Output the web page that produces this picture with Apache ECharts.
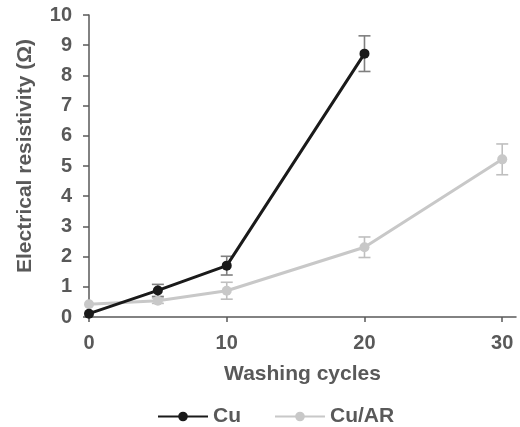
<!DOCTYPE html>
<html><head><meta charset="utf-8">
<script src="https://cdn.jsdelivr.net/npm/echarts@6/dist/echarts.min.js"></script>
<style>html,body{margin:0;padding:0;background:#fff}#c{width:520px;height:427px}</style>
</head><body><div id="c"></div>
<script>
const cycles = [0, 5, 10, 20];
const cyclesAR = [0, 5, 10, 20, 30];
const cuValues = [0.11, 0.88, 1.70, 8.72];
const cuErr = [0, 0.2, 0.31, 0.59];
const arValues = [0.42, 0.54, 0.87, 2.31, 5.22];
const arErr = [0, 0.09, 0.28, 0.34, 0.51];
const xTicks = [0, 10, 20, 30];
const yTicks = [0, 1, 2, 3, 4, 5, 6, 7, 8, 9, 10];

const txt = '#595959';
const font = '"Liberation Sans", Arial, sans-serif';

function errData(xs, vs, es) {
  return xs.map((x, i) => [x, vs[i] - es[i], vs[i] + es[i]]).filter((d, i) => es[i] > 0);
}
function errSeries(data, color) {
  return {
    type: 'custom', data: data, z: 1, silent: true,
    renderItem: function (params, api) {
      const x = api.value(0);
      const lo = api.coord([x, api.value(1)]);
      const hi = api.coord([x, api.value(2)]);
      const w = 6;
      const st = { stroke: color, lineWidth: 1.6 };
      return { type: 'group', children: [
        { type: 'line', shape: { x1: hi[0], y1: hi[1], x2: lo[0], y2: lo[1] }, style: st },
        { type: 'line', shape: { x1: hi[0] - w, y1: hi[1], x2: hi[0] + w, y2: hi[1] }, style: st },
        { type: 'line', shape: { x1: lo[0] - w, y1: lo[1], x2: lo[0] + w, y2: lo[1] }, style: st }
      ]};
    }
  };
}

const chart = echarts.init(document.getElementById('c'));
chart.setOption({
  animation: false,
  textStyle: { fontFamily: font },
  grid: { left: 89, right: 4, top: 15, bottom: 110, containLabel: false },
  xAxis: {
    type: 'value', min: 0, max: 31,
    name: 'Washing cycles', nameLocation: 'middle', nameGap: 47,
    nameTextStyle: { color: txt, fontSize: 21, fontWeight: 'bold', fontFamily: font },
    axisLine: { lineStyle: { color: '#595959', width: 1.5 } },
    axisTick: { show: true, length: 5, customValues: xTicks, lineStyle: { color: '#595959', width: 1.5 } },
    axisLabel: { customValues: xTicks, color: txt, fontSize: 20, fontWeight: 'bold', margin: 16, fontFamily: font },
    splitLine: { show: false }
  },
  yAxis: {
    type: 'value', min: 0, max: 10, interval: 1,
    name: 'Electrical resistivity (Ω)', nameLocation: 'middle', nameGap: 53,
    nameTextStyle: { color: txt, fontSize: 21, fontWeight: 'bold', fontFamily: font, padding: [0, 0, 0, 20] },
    axisLine: { show: true, lineStyle: { color: '#595959', width: 1.5 } },
    axisTick: { show: true, length: 6, customValues: yTicks, lineStyle: { color: '#595959', width: 1.5 } },
    axisLabel: { customValues: yTicks, color: txt, fontSize: 20, fontWeight: 'bold', margin: 17, fontFamily: font },
    splitLine: { show: false }
  },
  legend: {
    left: 152, top: 401, itemWidth: 50, itemHeight: 12, itemGap: 33,
    textStyle: { color: txt, fontSize: 21, fontWeight: 'bold', fontFamily: font },
    data: ['Cu', 'Cu/AR']
  },
  series: [
    errSeries(errData(cyclesAR, arValues, arErr), '#bfbfbf'),
    errSeries(errData(cycles, cuValues, cuErr), '#7f7f7f'),
    {
      name: 'Cu/AR', type: 'line', z: 2,
      data: cyclesAR.map((x, i) => [x, arValues[i]]),
      symbol: 'circle', symbolSize: 10,
      lineStyle: { color: '#c8c8c8', width: 3 },
      itemStyle: { color: '#c8c8c8' }
    },
    {
      name: 'Cu', type: 'line', z: 3,
      data: cycles.map((x, i) => [x, cuValues[i]]),
      symbol: 'circle', symbolSize: 10,
      lineStyle: { color: '#1a1a1a', width: 3 },
      itemStyle: { color: '#1a1a1a' }
    }
  ]
});
</script></body></html>
